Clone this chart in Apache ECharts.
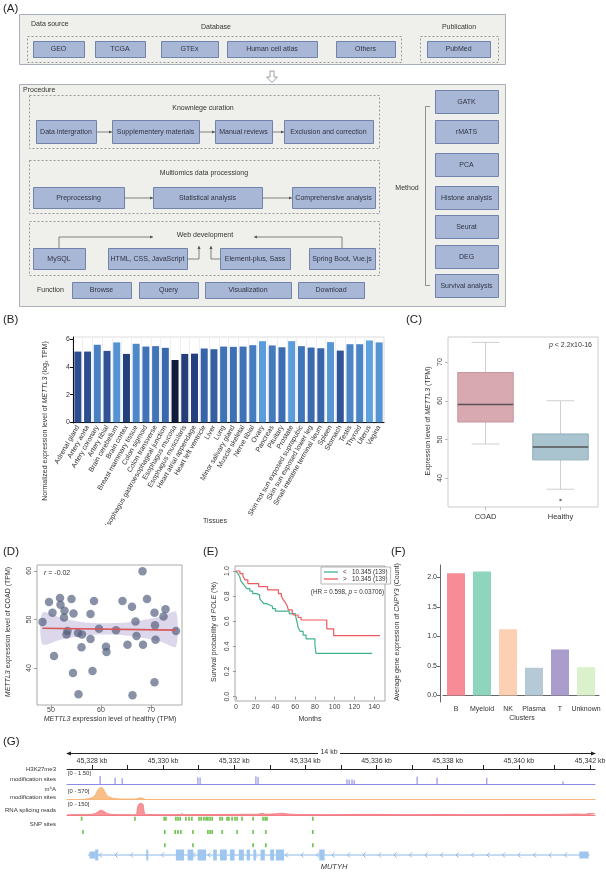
<!DOCTYPE html>
<html><head><meta charset="utf-8">
<script src="https://cdn.jsdelivr.net/npm/echarts@6/dist/echarts.min.js"></script>
<style>html,body{margin:0;padding:0;background:#fff}#c{width:606px;height:872px}</style>
</head><body><div id="c"></div>
<script>
// ================= DATA =================
// Panel A (flow diagram texts)
const dbSources = ['GEO','TCGA','GTEx','Human cell atlas','Others'];
const pubSources = ['PubMed'];
const curationSteps = ['Data intergration','Supplementery materials','Manual reviews','Exclusion and correction'];
const processingSteps = ['Preprocessing','Statistical analysis','Comprehensive analysis'];
const webTools = ['MySQL','HTML, CSS, JavaScript','Element-plus, Sass','Spring Boot, Vue.js'];
const functionItems = ['Browse','Query','Visualization','Download'];
const methodItems = ['GATK','rMATS','PCA','Histone analysis','Seurat','DEG','Survival analysis'];
const sectionTitles = ['Data source','Database','Publication','Procedure','Knownlege curation','Multiomics data processiong','Web development','Function','Method'];

// Panel B
const tissues = ['Adrenal gland','Artery aorta','Artery coronary','Artery tibial','Brain cerebellum','Brain cortex','Breast mammary tissue','Colon sigmoid','Colon transverse','Esophagus gastroesophageal junction','Esophagus mucosa','Esophagus muscularis','Heart atrial appendage','Heart left ventricle','Liver','Lung','Minor salivary gland','Muscle skeletal','Nerve tibial','Ovary','Pancreas','Pituitary','Prostate','Skin not sun exposed suprapubic','Skin sun exposed lower leg','Small intestine terminal ileum','Spleen','Stomach','Testis','Thyroid','Uterus','Vagina'];
const tissueExpr = [5.10,5.10,5.59,5.15,5.76,4.93,5.66,5.46,5.49,5.37,4.49,4.93,4.95,5.32,5.27,5.46,5.44,5.46,5.56,5.85,5.54,5.41,5.85,5.49,5.39,5.34,5.78,5.17,5.63,5.63,5.90,5.76];
const tissueTicks = [0,2,4,6];

// Panel C  [min, Q1, median, Q3, max]
const boxGroups = ['COAD','Healthy'];
const boxStats = [[48.8,54.5,59.0,67.3,75.1],[37.1,44.7,48.0,51.4,60.0]];
const boxOutliers = [['Healthy',34.3]];
const boxTicks = [40,50,60,70];

// Panel D
const healthyTPM = [48.3,49.6,50.3,50.6,51.8,51.9,52.7,52.6,53.1,53.3,54.1,54.5,54.4,55.4,56.2,56.1,55.5,57.9,57.9,58.3,58.6,59.6,61.0,61.1,63.0,64.3,65.3,66.2,66.3,66.9,67.1,68.3,68.4,69.2,70.7,70.8,70.9,70.7,72.5,72.9,75.0];
const coadTPM    = [49.5,53.6,51.4,42.5,54.4,53.0,51.8,50.4,46.9,47.6,54.2,51.2,39.0,47.2,46.9,44.3,34.6,51.1,46.0,39.4,53.8,48.1,44.4,43.3,47.8,53.8,44.8,52.6,34.4,49.6,46.6,59.9,44.8,54.2,51.4,48.8,45.8,37.1,50.6,52.1,47.6];
const fitLine = [[48.3,48.2],[75.0,47.8]];
const bandX     = [48.3,52,56,60,64,68,72,75];
const bandUpper = [51.4,50.3,49.5,49.2,49.3,49.8,50.6,51.6];
const bandLower = [44.9,45.9,46.6,46.9,46.8,46.3,45.4,44.4];
const dTicksX = [50,60,70], dTicksY = [40,50,60];

// Panel E  [month, survival]
const survLow = [[0,1.0],[2,0.98],[4,0.95],[5,0.92],[7,0.90],[9,0.88],[11,0.86],[14,0.84],[17,0.82],[21,0.81],[24,0.78],[26,0.76],[28,0.74],[31,0.73],[34,0.72],[37,0.70],[40,0.68],[54,0.66],[60,0.65],[61,0.62],[62,0.59],[63,0.55],[65,0.52],[68,0.49],[71,0.46],[80,0.41],[81,0.345],[138,0.345]];
const survHigh = [[0,1.0],[4,0.98],[7,0.96],[9,0.93],[12,0.90],[23,0.875],[32,0.85],[43,0.82],[46,0.80],[48,0.77],[50,0.75],[52,0.72],[53,0.69],[57,0.67],[58,0.65],[63,0.63],[66,0.61],[92,0.54],[99,0.485],[146,0.485]];
const survNames = ['<   10.345 (139)','>   10.345 (139)'];
const eTicksX = [0,20,40,60,80,100,120,140], eTicksY = [0,0.2,0.4,0.6,0.8,1.0];

// Panel F
const clusters = ['B','Myeloid','NK','Plasma','T','Unknown'];
const clusterExpr = [2.07,2.10,1.12,0.47,0.78,0.48];
const fTicks = [0,0.5,1,1.5,2];

// Panel G (genomic coordinates in kb)
const kbTicks = [45328,45329,45330,45331,45332,45333,45334,45335,45336,45337,45338,45339,45340,45341,45342];
const kbLabels = [45328,45330,45332,45334,45336,45338,45340,45342];
const h3k27Peaks = [[45328.23,1.5],[45328.65,1.18],[45328.85,1.07],[45330.98,1.26],[45331.04,1.2],[45332.61,1.44],[45332.67,1.3],[45335.17,0.88],[45335.23,0.8],[45335.31,0.88],[45335.37,0.7],[45337.14,1.37],[45337.70,1.18],[45339.10,1.18],[45341.24,0.5]];
const m6aSignal = [[45327.81,0],[45327.89,15],[45328.00,60],[45328.09,180],[45328.14,350],[45328.20,500],[45328.26,545],[45328.31,500],[45328.37,330],[45328.42,170],[45328.51,80],[45328.59,40],[45328.73,10],[45328.85,0],[45329.24,0],[45329.30,35],[45329.35,55],[45329.41,40],[45329.49,0]];
const spliceSignal = [[45327.30,3],[45327.67,5],[45328.00,8],[45328.12,25],[45328.20,50],[45328.26,60],[45328.34,45],[45328.45,15],[45328.65,5],[45329.07,4],[45329.24,6],[45329.28,90],[45329.32,135],[45329.38,145],[45329.44,130],[45329.46,60],[45329.51,8],[45329.91,5],[45330.50,6],[45330.53,22],[45330.56,6],[45331.04,6],[45331.88,8],[45332.67,10],[45332.78,18],[45332.89,10],[45333.15,15],[45333.34,22],[45333.51,12],[45333.85,6],[45334.69,5],[45335.82,8],[45336.66,5],[45337.78,6],[45338.63,5],[45339.75,6],[45341.16,8],[45341.58,12],[45341.86,10],[45342.00,18],[45342.14,15]];
const snpRow1 = [45327.71,45329.21,45330.03,45330.08,45330.36,45330.42,45330.48,45330.64,45330.73,45330.81,45331.01,45331.07,45331.15,45331.21,45331.26,45331.32,45331.38,45331.60,45331.66,45331.80,45331.85,45331.94,45332.02,45332.08,45332.22,45332.53,45332.81,45332.87,45332.92,45334.21];
const snpRow2 = [45327.75,45330.05,45330.34,45330.42,45330.50,45330.84,45331.26,45331.32,45331.38,45331.66,45332.08,45332.53,45332.89,45334.21];
const snpRow3 = [45330.05,45330.84,45332.53,45332.89,45334.21];
const geneName = 'MUTYH';
const geneSpan = [45327.89,45341.99];
const exons = [[45327.93,45328.09,'utr'],[45328.09,45328.18,'cds'],[45329.53,45329.58,'cds'],[45330.36,45330.59,'cds'],[45330.69,45330.85,'cds'],[45330.97,45331.21,'cds'],[45331.41,45331.51,'cds'],[45331.60,45331.79,'cds'],[45331.88,45332.01,'cds'],[45332.13,45332.27,'cds'],[45332.35,45332.44,'cds'],[45332.54,45332.61,'cds'],[45332.74,45332.86,'cds'],[45333.01,45333.12,'cds'],[45333.17,45333.40,'cds'],[45334.39,45334.54,'cds'],[45341.70,45341.96,'utr']];
const trackNames = [['H3K27me3',769],['modification sites',779],['m\u2076A',789],['modification sites',797],['RNA splicing reads',810],['SNP sites',824]];
const trackRanges = [['[0 - 1.50]',773],['[0 - 570]',791],['[0 - 150]',804]];

// ================= STYLE / LAYOUT =================
const FONT = '"Liberation Sans", Arial, Helvetica, sans-serif';
const G_MIN = 45327.30, G_MAX = 45342.14;
const boxFill = ['#d9a9b1','#a9c3cf'], boxEdge = ['#c796a0','#8fadbb'];
const clusterColors = ['#f78c96','#8dd5bd','#fdd0b3','#b5c9d6','#aa9dcc','#daf1cb'];

function T(x, y, text, o) {
  o = o || {};
  const st = {text: text, fill: o.color || '#333', fontSize: o.size || 7, fontFamily: FONT,
    fontStyle: o.italic ? 'italic' : 'normal', align: o.align || 'center', verticalAlign: o.va || 'middle'};
  if (o.rich) st.rich = o.rich;
  return {type:'text', x:x, y:y, rotation:o.rot || 0, z:o.z || 20, silent:true, style:st};
}
function richStyles(size, color) {
  color = color || '#333';
  return {a:{fontSize:size, fontFamily:FONT, fill:color}, i:{fontSize:size, fontFamily:FONT, fill:color, fontStyle:'italic'}};
}
function R(x, y, w, h, fill, stroke, dash, z) {
  return {type:'rect', shape:{x:x+0.5, y:y+0.5, width:w, height:h}, z:z||5, silent:true,
    style:{fill:fill, stroke:stroke, lineWidth:1, lineDash:dash ? [2,2] : null}};
}
function box(x1, x2, y, h, label) {
  return [R(x1, y, x2-x1, h, '#a9b7d7', '#7182ab', false, 10), T((x1+x2)/2, y+h/2+0.5, label, {size:7, color:'#2e3340'})];
}
function head(x, y, dir) {
  const s = 3, w = 1.6; let p;
  if (dir === 'r') p = [[x,y],[x-s,y-w],[x-s,y+w]];
  else if (dir === 'l') p = [[x,y],[x+s,y-w],[x+s,y+w]];
  else p = [[x,y],[x-w,y+s],[x+w,y+s]];
  return {type:'polygon', shape:{points:p}, style:{fill:'#555'}, z:12, silent:true};
}
function pline(points, dir) {
  const last = points[points.length-1];
  return [{type:'polyline', shape:{points:points}, style:{stroke:'#666', lineWidth:0.8, fill:null}, z:11, silent:true}, head(last[0], last[1], dir)];
}

const LA = {
  db:[[33,84],[95,145],[161,218],[227,317],[336,395]], pub:[[427,490]],
  cur:[[36,96],[112,199],[215,272],[284,373]], proc:[[33,124],[153,262],[292,375]],
  web:[[33,85],[108,187],[220,290],[309,375]], fn:[[72,131],[139,198],[205,291],[298,364]],
  meth:[90,120,153,186,215,245,274]
};

const graphic = [];
function add(a) { if (Array.isArray(a)) a.forEach(e => graphic.push(e)); else graphic.push(a); }

// ---- Panel A ----
add(R(19,14,486,50,'#efefec','#a9aebb',false,2));
add(T(31,24,sectionTitles[0],{align:'left'}));
add(T(216,27,sectionTitles[1]));
add(T(459,27,sectionTitles[2]));
add(R(27,36,374,26,null,'#999',true,4));
add(R(420,36,78,26,null,'#999',true,4));
dbSources.forEach((s,i) => add(box(LA.db[i][0], LA.db[i][1], 41, 16, s)));
pubSources.forEach((s,i) => add(box(LA.pub[i][0], LA.pub[i][1], 41, 16, s)));
add({type:'polygon', shape:{points:[[270,71],[274,71],[274,77],[277.5,77],[272,82.5],[266.5,77],[270,77]]}, style:{fill:'#fff', stroke:'#888', lineWidth:0.8}, z:5, silent:true});
add(R(19,84,486,222,'#efefec','#a9aebb',false,2));
add(T(23,90,sectionTitles[3],{align:'left'}));
add(R(29,95,350,53,null,'#999',true,4));
add(T(203,108,sectionTitles[4]));
curationSteps.forEach((s,i) => add(box(LA.cur[i][0], LA.cur[i][1], 120, 23, s)));
for (let i = 0; i < 3; i++) add(pline([[LA.cur[i][1]+0.5,132],[LA.cur[i+1][0],132]],'r'));
add(R(29,160,350,53,null,'#999',true,4));
add(T(204,173,sectionTitles[5]));
processingSteps.forEach((s,i) => add(box(LA.proc[i][0], LA.proc[i][1], 187, 21, s)));
for (let i = 0; i < 2; i++) add(pline([[LA.proc[i][1]+0.5,198],[LA.proc[i+1][0],198]],'r'));
add(R(29,221,350,54,null,'#999',true,4));
add(T(205,235,sectionTitles[6]));
webTools.forEach((s,i) => add(box(LA.web[i][0], LA.web[i][1], 248, 21, s)));
add(pline([[59,248],[59,237],[153,237]],'r'));
add(pline([[342,248],[342,237],[254,237]],'l'));
add(pline([[187.5,259],[199,259],[199,246]],'u'));
add(pline([[220,259],[211,259],[211,246]],'u'));
add(T(37,290,sectionTitles[7],{align:'left'}));
functionItems.forEach((s,i) => add(box(LA.fn[i][0], LA.fn[i][1], 282, 16, s)));
methodItems.forEach((s,i) => add(box(435, 498, LA.meth[i], 23, s)));
add({type:'polyline', shape:{points:[[430,106.5],[425.5,106.5],[425.5,285.5],[430,285.5]]}, style:{stroke:'#777', lineWidth:0.8, fill:null}, z:6, silent:true});
add(T(407,188,sectionTitles[8]));

// ---- Panel letters ----
[['(A)',3,9],['(B)',3,320],['(C)',406,320],['(D)',3,552],['(E)',203,552],['(F)',391,552],['(G)',3,742]].forEach(p => add(T(p[1],p[2],p[0],{size:11.5,align:'left',color:'#222',z:110})));

// ---- Axis titles / annotations ----
add({type:'rect', shape:{x:40,y:525,width:350,height:20}, style:{fill:'#fff'}, z:100, silent:true});
add(T(45,421,'{a|Normalized expression level of }{i|METTL3}{a| (log\u2082 TPM)}',{rot:Math.PI/2,rich:richStyles(7)}));
add(T(215,521,'Tissues',{size:7}));
add(T(428,421,'{a|Expression level of }{i|METTL3}{a| (TPM)}',{rot:Math.PI/2,rich:richStyles(7)}));
add(T(592,345,'{i|p}{a| < 2.2x10-16}',{align:'right',rich:richStyles(7)}));
add(T(8,632,'{i|METTL3}{a| expression level of COAD (TPM)}',{rot:Math.PI/2,rich:richStyles(7)}));
add(T(110,719,'{i|METTL3}{a| expression level of healthy (TPM)}',{rich:richStyles(7)}));
add(T(44,573,'{i|r}{a| = -0.02}',{align:'left',rich:richStyles(7)}));
add(T(214,632,'{a|Survival probability of }{i|POLE}{a| (%)}',{rot:Math.PI/2,rich:richStyles(7)}));
add(T(310,719,'Months',{size:7}));
add(T(384,592,'{a|(HR = 0.598, }{i|p}{a| = 0.03706)}',{align:'right',rich:richStyles(6.3)}));
add(T(397,632,'{a|Average gene expression of }{i|CNPY3}{a| (Count)}',{rot:Math.PI/2,rich:richStyles(7)}));
add(T(522,718,'Clusters',{size:7}));
// Panel G annotations
add({type:'polyline', shape:{points:[[318,753.5],[69,753.5]]}, style:{stroke:'#222',lineWidth:1,fill:null}, silent:true, z:20});
add({type:'polyline', shape:{points:[[340,753.5],[593,753.5]]}, style:{stroke:'#222',lineWidth:1,fill:null}, silent:true, z:20});
add({type:'polygon', shape:{points:[[66,753.5],[71,751.5],[71,755.5]]}, style:{fill:'#222'}, silent:true, z:20});
add({type:'polygon', shape:{points:[[596,753.5],[591,751.5],[591,755.5]]}, style:{fill:'#222'}, silent:true, z:20});
add(T(329,752.5,'14 kb',{size:7}));
trackNames.forEach(t => add(T(56,t[1],t[0],{size:6,align:'right'})));
trackRanges.forEach(t => add(T(68,t[1],t[0],{size:5.8,align:'left'})));
add(T(334,867,geneName,{size:7.5,italic:true}));

// ================= CHART =================
const chart = echarts.init(document.getElementById('c'), null, {renderer:'canvas'});
const noAx = {show:false};
function hidX(gi, lineColor) {
  return {gridIndex:gi, type:'value', min:G_MIN, max:G_MAX, show:true,
    axisLine:{show:!!lineColor, onZero:false, lineStyle:{color:lineColor||'#000', width:1}},
    axisTick:noAx, axisLabel:noAx, splitLine:noAx};
}
function hidY(gi, mn, mx, inv) { return {gridIndex:gi, type:'value', min:mn, max:mx, show:false, inverse:!!inv, splitLine:noAx}; }
const lab = (o) => Object.assign({fontSize:7, color:'#444', fontFamily:FONT}, o);
const grid = (o) => Object.assign({containLabel:false, outerBoundsMode:'none'}, o);
const kbFmt = v => String(Math.round(v)).replace(/\B(?=(\d{3})+(?!\d))/g, ',') + ' kb';

const option = {
  animation:false,
  backgroundColor:'#fff',
  textStyle:{fontFamily:FONT},
  grid:[
    grid({left:73, top:337, width:311, height:86, show:true, borderColor:'#d4d4d4', borderWidth:0.8}),
    grid({left:448, top:337, width:150, height:170, show:true, borderColor:'#cccccc', borderWidth:1}),
    grid({left:37, top:565, width:145, height:140, show:true, borderColor:'#aaaaaa', borderWidth:1}),
    grid({left:235, top:566, width:150, height:135, show:true, borderColor:'#aaaaaa', borderWidth:1}),
    grid({left:443, top:565, width:156, height:137}),
    grid({left:67, top:769, width:528, height:1}),
    grid({left:67, top:776, width:528, height:8}),
    grid({left:67, top:787, width:528, height:12}),
    grid({left:67, top:803, width:528, height:12}),
    grid({left:67, top:812, width:528, height:40}),
    grid({left:67, top:850, width:528, height:10})
  ],
  xAxis:[
    {gridIndex:0, type:'category', data:tissues,
      axisLine:{lineStyle:{color:'#111', width:1}}, axisTick:{alignWithLabel:true, length:3, lineStyle:{color:'#111'}},
      axisLabel:lab({interval:0, rotate:60, margin:3, color:'#333'}),
      splitLine:{show:true, interval:0, lineStyle:{color:'#ececec', width:0.8}}},
    {gridIndex:1, type:'category', data:boxGroups, axisLine:noAx,
      axisTick:{show:true, alignWithLabel:true, length:3, lineStyle:{color:'#bbb'}},
      axisLabel:lab({fontSize:7.5, color:'#333', margin:6})},
    {gridIndex:2, type:'value', min:47.2, max:76.2, axisLine:noAx, splitLine:noAx,
      axisTick:{show:true, customValues:dTicksX, length:3, lineStyle:{color:'#999'}},
      axisLabel:lab({customValues:dTicksX, margin:2})},
    {gridIndex:3, type:'value', min:-1, max:151, axisLine:noAx, splitLine:noAx,
      axisTick:{show:true, customValues:eTicksX, length:3, lineStyle:{color:'#999'}},
      axisLabel:lab({customValues:eTicksX, margin:3})},
    {gridIndex:4, type:'category', data:clusters,
      axisLine:{lineStyle:{color:'#666', width:1}}, axisTick:{alignWithLabel:true, length:3, lineStyle:{color:'#666'}},
      axisLabel:lab({interval:0, color:'#333', margin:4})},
    {gridIndex:5, type:'value', position:'top', min:G_MIN, max:G_MAX,
      axisLine:{show:true, onZero:false, lineStyle:{color:'#222', width:1}},
      axisTick:{show:true, customValues:kbTicks, length:4, lineStyle:{color:'#222'}},
      axisLabel:lab({customValues:kbLabels, formatter:kbFmt, margin:4, color:'#333'}), splitLine:noAx},
    hidX(6,'#8a8ae6'), hidX(7,'#f7b77b'), hidX(8,'#f47c84'), hidX(9,null), hidX(10,null)
  ],
  yAxis:[
    {gridIndex:0, type:'value', min:-0.05, max:6.15, axisLine:{show:true, lineStyle:{color:'#111', width:1}},
      axisTick:{show:true, customValues:tissueTicks, length:3, lineStyle:{color:'#111'}},
      axisLabel:lab({customValues:tissueTicks, margin:3, color:'#333'}), splitLine:noAx},
    {gridIndex:1, type:'value', min:32.5, max:76.5, axisLine:noAx, splitLine:noAx,
      axisTick:{show:true, customValues:boxTicks, length:3, lineStyle:{color:'#bbb'}},
      axisLabel:lab({customValues:boxTicks, rotate:90, margin:4})},
    {gridIndex:2, type:'value', min:32.4, max:61.2, axisLine:noAx, splitLine:noAx,
      axisTick:{show:true, customValues:dTicksY, length:3, lineStyle:{color:'#999'}},
      axisLabel:lab({customValues:dTicksY, rotate:90, margin:4})},
    {gridIndex:3, type:'value', min:-0.035, max:1.04, axisLine:noAx, splitLine:noAx,
      axisTick:{show:true, customValues:eTicksY, length:3, lineStyle:{color:'#999'}},
      axisLabel:lab({customValues:eTicksY, rotate:90, margin:4, formatter:v => v.toFixed(1)})},
    {gridIndex:4, type:'value', min:-0.11, max:2.21, offset:3, axisLine:{show:true, lineStyle:{color:'#666', width:1}}, splitLine:noAx,
      axisTick:{show:true, customValues:fTicks, length:3, lineStyle:{color:'#666'}},
      axisLabel:lab({customValues:fTicks, margin:3, color:'#333', formatter:v => v.toFixed(1)})},
    hidY(5,0,1), hidY(6,0,1.5), hidY(7,0,570), hidY(8,0,150), hidY(9,-0.5,2.5,true), hidY(10,-1,1)
  ],
  visualMap:[{type:'continuous', show:false, seriesIndex:0, min:4.45, max:5.9,
    inRange:{color:['#0f1636','#243e7c','#3c6db3','#5fa3de']}}],
  legend:[{data:survNames, left:321, top:567, orient:'vertical', icon:'rect', itemWidth:14, itemHeight:1.3, itemGap:1,
    padding:[2,3,2,3], borderColor:'#888', borderWidth:0.6, backgroundColor:'#fff', selectedMode:false,
    textStyle:{fontSize:6.3, color:'#333', fontFamily:FONT, padding:[0,0,0,0]}}],
  graphic:{elements:graphic},
  series:[
    // B
    {type:'bar', xAxisIndex:0, yAxisIndex:0, data:tissueExpr, barWidth:7},
    // C
    {type:'custom', xAxisIndex:1, yAxisIndex:1, data:boxStats.map((s,i) => [i].concat(s)),
      encode:{x:0, y:[1,2,3,4,5]},
      renderItem:(p, api) => {
        const i = api.value(0);
        const mn = api.value(1), q1 = api.value(2), md = api.value(3), q3 = api.value(4), mx = api.value(5);
        const cx = api.coord([i, md])[0];
        const bw = api.size([1, 0])[0] * 0.74;
        const y = v => api.coord([i, v])[1];
        const ws = {stroke:'#cfcfcf', lineWidth:1};
        return {type:'group', children:[
          {type:'line', shape:{x1:cx, y1:y(q3), x2:cx, y2:y(mx)}, style:ws},
          {type:'line', shape:{x1:cx, y1:y(q1), x2:cx, y2:y(mn)}, style:ws},
          {type:'line', shape:{x1:cx-bw/4, y1:y(mx), x2:cx+bw/4, y2:y(mx)}, style:ws},
          {type:'line', shape:{x1:cx-bw/4, y1:y(mn), x2:cx+bw/4, y2:y(mn)}, style:ws},
          {type:'rect', shape:{x:cx-bw/2, y:y(q3), width:bw, height:y(q1)-y(q3)}, style:{fill:boxFill[i], stroke:boxEdge[i], lineWidth:1}},
          {type:'line', shape:{x1:cx-bw/2, y1:y(md), x2:cx+bw/2, y2:y(md)}, style:{stroke:'#555', lineWidth:1.5}}
        ]};
      }},
    {type:'scatter', xAxisIndex:1, yAxisIndex:1, data:boxOutliers, symbolSize:2.5, itemStyle:{color:'#555'}},
    // D band
    {type:'custom', xAxisIndex:2, yAxisIndex:2, data:[[bandX[0], bandUpper[0]]], z:1,
      renderItem:(p, api) => {
        const pts = [];
        bandX.forEach((x, i) => pts.push(api.coord([x, bandUpper[i]])));
        for (let i = bandX.length - 1; i >= 0; i--) pts.push(api.coord([bandX[i], bandLower[i]]));
        return {type:'polygon', shape:{points:pts, smooth:0.25}, style:{fill:'rgba(196,188,220,0.6)'}};
      }},
    {type:'scatter', xAxisIndex:2, yAxisIndex:2, data:healthyTPM.map((x, i) => [x, coadTPM[i]]), symbolSize:8.5, z:3,
      itemStyle:{color:'rgba(82,94,124,0.85)'}},
    {type:'line', xAxisIndex:2, yAxisIndex:2, data:fitLine, showSymbol:false, z:4, lineStyle:{color:'#d9575a', width:1.6}},
    // E
    {type:'line', name:survNames[0], xAxisIndex:3, yAxisIndex:3, data:survLow, step:'end', showSymbol:false,
      lineStyle:{color:'#3fb28e', width:1.2}, itemStyle:{color:'#3fb28e'}},
    {type:'line', name:survNames[1], xAxisIndex:3, yAxisIndex:3, data:survHigh, step:'end', showSymbol:false,
      lineStyle:{color:'#f2585d', width:1.2}, itemStyle:{color:'#f2585d'}},
    // F
    {type:'bar', xAxisIndex:4, yAxisIndex:4, barWidth:18,
      data:clusterExpr.map((v, i) => ({value:v, itemStyle:{color:clusterColors[i]}}))},
    // G: H3K27me3 spikes
    {type:'custom', xAxisIndex:6, yAxisIndex:6, data:h3k27Peaks,
      renderItem:(p, api) => {
        const a = api.coord([api.value(0), 0]), b = api.coord([api.value(0), api.value(1)]);
        return {type:'line', shape:{x1:a[0], y1:a[1], x2:b[0], y2:b[1]}, style:{stroke:'#7f7fe2', lineWidth:1}};
      }},
    {type:'line', xAxisIndex:7, yAxisIndex:7, data:m6aSignal, showSymbol:false, smooth:0.35,
      lineStyle:{color:'#f6ad6a', width:0.8}, areaStyle:{color:'#f9bf88', opacity:1}},
    {type:'line', xAxisIndex:8, yAxisIndex:8, data:spliceSignal, showSymbol:false, smooth:0.3,
      lineStyle:{color:'#f3767e', width:0.8}, areaStyle:{color:'#f6949a', opacity:1}},
    {type:'custom', xAxisIndex:9, yAxisIndex:9,
      data:snpRow1.map(k => [k, 0]).concat(snpRow2.map(k => [k, 1]), snpRow3.map(k => [k, 2])),
      renderItem:(p, api) => {
        const c = api.coord([api.value(0), api.value(1)]);
        return {type:'rect', shape:{x:c[0]-0.8, y:c[1]-2, width:1.6, height:4}, style:{fill:'#6cc24a'}};
      }},
    // G gene: intron line with strand chevrons
    {type:'custom', xAxisIndex:10, yAxisIndex:10, data:[[geneSpan[0], geneSpan[1]]], z:2,
      renderItem:(p, api) => {
        const a = api.coord([api.value(0), 0]), b = api.coord([api.value(1), 0]);
        const kids = [{type:'line', shape:{x1:a[0], y1:a[1], x2:b[0], y2:b[1]}, style:{stroke:'#8bb8e6', lineWidth:1}}];
        for (let x = a[0] + 12; x < b[0] - 6; x += 15.5) {
          kids.push({type:'polyline', shape:{points:[[x+2, a[1]-2.5],[x-0.5, a[1]],[x+2, a[1]+2.5]]}, style:{stroke:'#8bb8e6', lineWidth:1, fill:null}});
        }
        return {type:'group', children:kids};
      }},
    {type:'custom', xAxisIndex:10, yAxisIndex:10, data:exons, z:3,
      dimensions:['start','end',{name:'kind', type:'ordinal'}],
      renderItem:(p, api) => {
        const e = exons[p.dataIndex];
        const a = api.coord([e[0], 0]), b = api.coord([e[1], 0]);
        const h = e[2] === 'utr' ? 7 : 11;
        return {type:'rect', shape:{x:a[0], y:a[1]-h/2, width:Math.max(1.5, b[0]-a[0]), height:h}, style:{fill:'#9ec6ef'}};
      }}
  ]
};
chart.setOption(option);
</script>
</body></html>
